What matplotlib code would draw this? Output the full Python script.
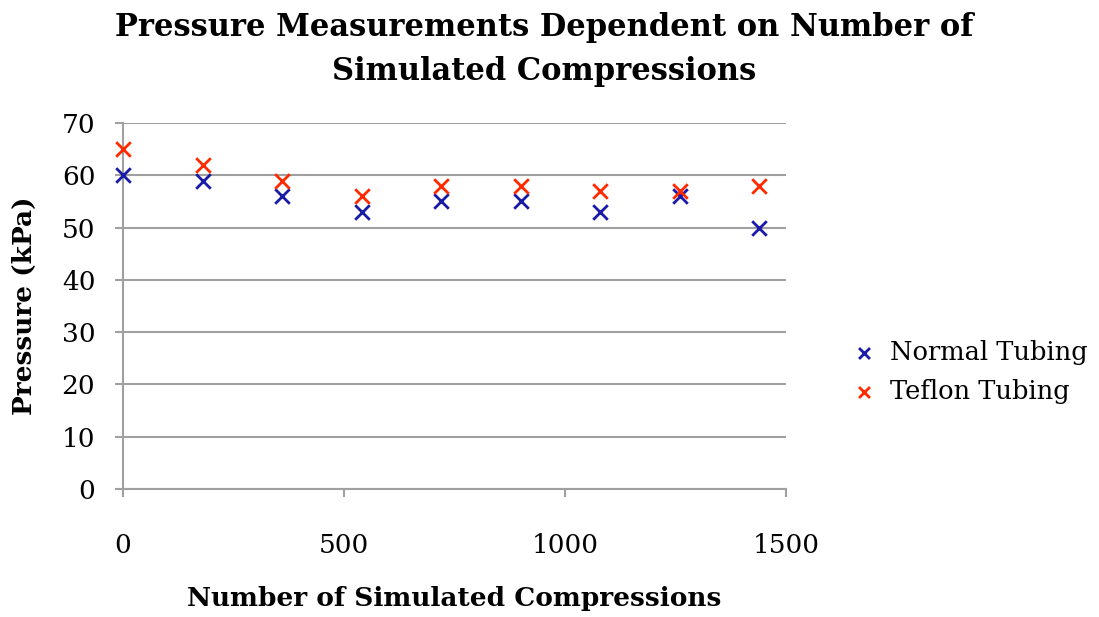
import matplotlib
matplotlib.use("Agg")
import matplotlib.pyplot as plt

compressions = [0, 180, 360, 540, 720, 900, 1080, 1260, 1440]
normal_tubing = [60, 59, 56, 53, 55, 55, 53, 56, 50]
teflon_tubing = [65, 62, 59, 56, 58, 58, 57, 57, 58]
x_ticks = [0, 500, 1000, 1500]
y_ticks = [0, 10, 20, 30, 40, 50, 60, 70]

plt.rcParams['font.family'] = ['DejaVu Serif']

fig = plt.figure(figsize=(10.99, 6.17), dpi=100)
ax = fig.add_axes([0.112, 0.2075, 0.603, 0.593])

ax.scatter(compressions, normal_tubing, marker='x', s=110, linewidths=2,
           color='#1a1aa8', label='Normal Tubing', zorder=3, clip_on=False)
ax.scatter(compressions, teflon_tubing, marker='x', s=110, linewidths=2,
           color='#ff2a00', label='Teflon Tubing', zorder=3, clip_on=False)

ax.set_xlim(0, 1500)
ax.set_ylim(0, 70)
ax.set_xticks(x_ticks)
ax.set_yticks(y_ticks)
ax.yaxis.grid(True, color='#a0a0a0', linewidth=1.5)
ax.set_axisbelow(True)
for s in ['top', 'right']:
    ax.spines[s].set_visible(False)
for s in ['left', 'bottom']:
    ax.spines[s].set_color('#a0a0a0')
    ax.spines[s].set_linewidth(1.5)
ax.tick_params(axis='both', colors='#a0a0a0', length=6, width=1.5, labelcolor='black', labelsize=19)
ax.tick_params(axis='x', pad=26)
ax.tick_params(axis='y', pad=14)

ax.set_xlabel('Number of Simulated Compressions', fontsize=19, fontweight='bold', labelpad=20)
ax.set_ylabel('Pressure (kPa)', fontsize=19, fontweight='bold', labelpad=18)
fig.text(0.495, 1 - 80 / 617, 'Pressure Measurements Dependent on Number of\nSimulated Compressions',
         fontsize=22, fontweight='bold', ha='center', va='baseline',
         multialignment='center', linespacing=1.55)

leg = ax.legend(loc='center left', bbox_to_anchor=(1.045, 0.32), frameon=False,
                fontsize=18.5, handletextpad=0.0, markerscale=0.75, labelspacing=0.55)

fig.savefig('out.png', dpi=100)
